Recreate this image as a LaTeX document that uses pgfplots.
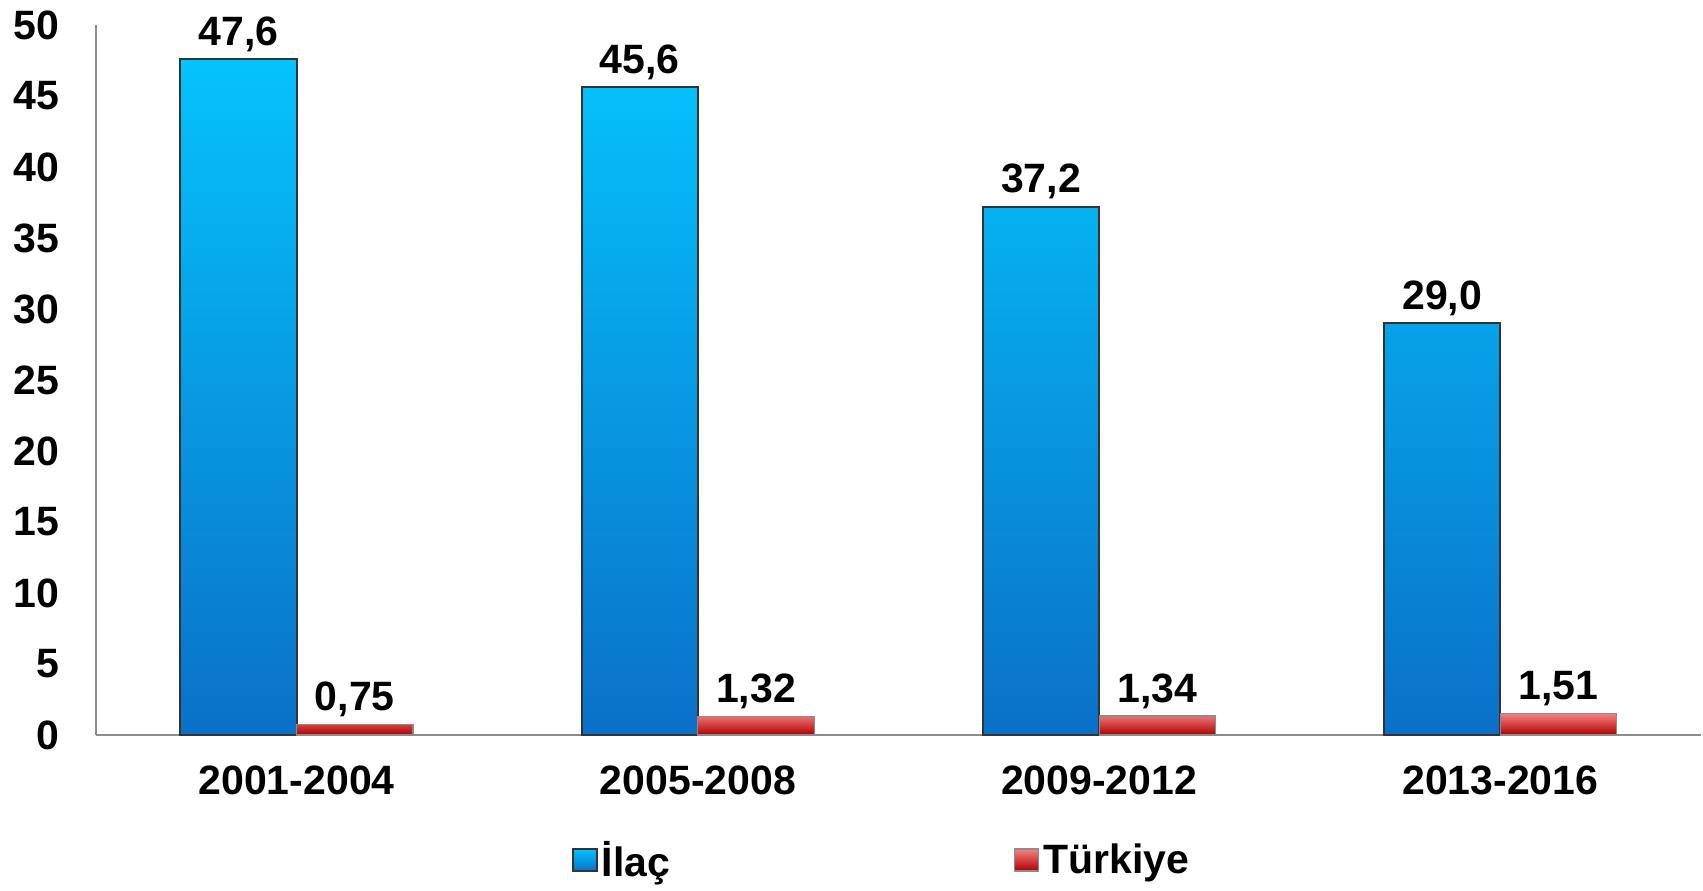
\documentclass[border=0pt]{standalone}
\usepackage{fontspec}
\setmainfont{Liberation Sans}
\usepackage{pgfplots}
\pgfplotsset{compat=1.18}

\definecolor{ilactop}{RGB}{5,195,252}
\definecolor{ilacmid}{RGB}{8,150,225}
\definecolor{ilacbot}{RGB}{10,112,200}
\definecolor{trtop}{RGB}{245,130,130}
\definecolor{trmid}{RGB}{240,0,0}
\definecolor{trbot}{RGB}{175,0,0}

\newcommand\lab{\bfseries\fontsize{20.5}{24}\selectfont}

% square legend marker
\pgfplotsset{boxlegend/.style={legend image code/.code={%
    \draw[##1] (0pt,-5.5pt) rectangle (12pt,5.5pt);}}}

\begin{document}
\begin{tikzpicture}
\useasboundingbox (0,0) rectangle (851.5pt,445pt);
\begin{axis}[
    at={(48pt,77.5pt)}, anchor=south west,
    scale only axis, width=802.5pt, height=355pt,
    xmin=-0.5, xmax=3.5, ymin=0, ymax=50,
    ybar=0pt, bar width=0.29,
    axis lines*=left,
    axis line style={draw=gray!90, line width=1pt, -},
    major tick length=0pt,
    xtick={0,1,2,3},
    xticklabels={2001-2004,2005-2008,2009-2012,2013-2016},
    ytick={0,5,...,50},
    /pgf/number format/assume math mode=true,
    yticklabel style={font=\lab, xshift=-15pt},
    xticklabel style={font=\lab, yshift=-12pt},
    nodes near coords,
    every node near coord/.append style={font=\lab, black},
    legend columns=2,
    legend style={at={(0.49,-0.176)}, anchor=center, draw=none, fill=none,
        font=\lab, /tikz/every even column/.append style={column sep=170pt}},
]
\addplot[draw=black!80, line width=1pt,
    top color=ilactop, middle color=ilacmid, bottom color=ilacbot,
    nodes near coords={\pgfmathprintnumber[fixed,fixed zerofill,precision=1,use comma]{\pgfplotspointmeta}},
    boxlegend]
    coordinates {(0,47.6) (1,45.6) (2,37.2) (3,29.0)};
\addlegendentry{İlaç}
\addplot[draw=black!45, line width=0.6pt,
    top color=trtop, middle color=trmid, bottom color=trbot,
    nodes near coords={\pgfmathprintnumber[fixed,fixed zerofill,precision=2,use comma]{\pgfplotspointmeta}},
    boxlegend]
    coordinates {(0,0.75) (1,1.32) (2,1.34) (3,1.51)};
\addlegendentry{Türkiye}
\end{axis}
\end{tikzpicture}
\end{document}
